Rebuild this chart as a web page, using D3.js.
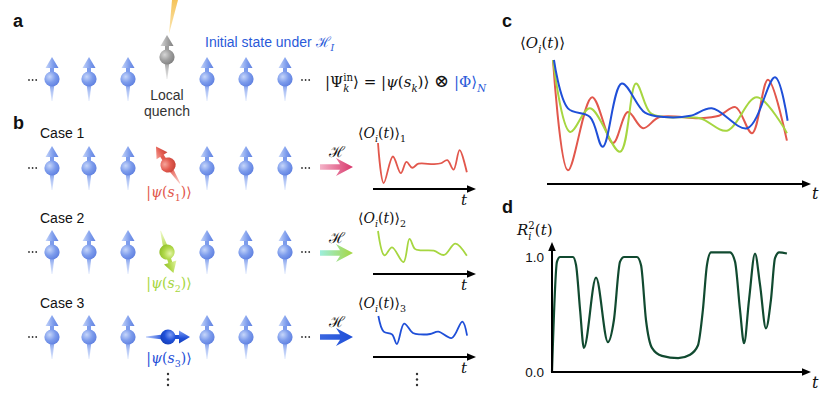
<!DOCTYPE html>
<html>
<head>
<meta charset="utf-8">
<script src="https://d3js.org/d3.v7.min.js"></script>
<style>
  body { margin: 0; background: #fff; }
  text { font-family: "Liberation Sans", Arial, sans-serif; }
</style>
</head>
<body>
<div id="chart"></div>
<script>
// DATA (t in 0..100)

var redSeries = [[0, 1.0], [6.3, 0.11], [16.5, 0.70], [25.3, 0.33], [31.6, 0.58], [38, 0.45],
    [45, 0.54], [62, 0.53], [70, 0.55], [77, 0.62], [84, 0.41], [90.7, 0.84], [98.7, 0.35]]
var greenSeries = [[0, 1.0], [7.2, 0.42], [15.6, 0.61], [28.3, 0.26], [35, 0.81], [41, 0.575],
    [47, 0.54], [62, 0.53], [73.4, 0.43], [86, 0.70], [98.7, 0.41]]
var blueSeries = [[0.4, 1.0], [6.3, 0.61], [15.6, 0.54], [21, 0.30], [29, 0.81], [38.8, 0.575],
    [47, 0.54], [58, 0.55], [67, 0.61], [82, 0.45], [93.7, 0.86], [99, 0.51]]

var fidelitySeries = [[0, 0], [2.1, 0.96], [3.4, 1.0], [8.8, 1.0], [10.1, 0.93], [11.8, 0.54],
    [13.4, 0.21], [18.5, 0.82], [23.5, 0.26], [26, 0.45], [28.6, 0.96], [30.3, 1.0], [35.7, 1.0],
    [37.4, 0.93], [39.5, 0.45], [42, 0.21], [46.2, 0.14], [53, 0.12], [58, 0.15], [61.3, 0.23],
    [63.4, 0.54], [65.1, 0.93], [66.8, 1.04], [74.8, 1.04], [76.9, 0.96], [79, 0.54], [80.7, 0.25],
    [82.8, 0.63], [85.3, 1.03], [87.4, 0.76], [89.9, 0.38], [92, 0.63], [93.7, 0.99], [95.4, 1.04],
    [98.7, 1.03]]

var caseLabels = ['Case 1', 'Case 2', 'Case 3']
var caseIndex = ['1', '2', '3']
var fidelityTicks = [0, 1]
var fidelityTickLabels = ['0.0', '1.0']

// GENERAL SETUP

var width = 830
var height = 407
var svg = d3.select('#chart').append('svg')
    .attr('width', width)
    .attr('height', height)
var defs = svg.append('defs')

var mathFont = '"DejaVu Serif", "Liberation Serif", serif'
var lineColors = { red: '#e2574c', green: '#a6d640', blue: '#1f4fd8' }

// spin colours: [highlight, body, shadow]
var spinColors = {
    blue: ['#c6d6fa', '#7d9cec', '#5f80e0'],
    grey: ['#d6d6d6', '#9e9e9e', '#808080'],
    red: ['#f6a59b', '#e35b50', '#c8443a'],
    green: ['#e4f5a6', '#b0d84a', '#92c02a'],
    deep: ['#7f9ff5', '#1f4fd8', '#163fb8']
}

Object.keys(spinColors).forEach(function (k) {
    var c = spinColors[k]
    var rg = defs.append('radialGradient').attr('id', 'ball-' + k)
        .attr('cx', '35%').attr('cy', '35%').attr('r', '70%')
    rg.append('stop').attr('offset', '0%').attr('stop-color', c[0])
    rg.append('stop').attr('offset', '55%').attr('stop-color', c[1])
    rg.append('stop').attr('offset', '100%').attr('stop-color', c[2])
    var tg = defs.append('linearGradient').attr('id', 'tail-' + k)
        .attr('x1', 0).attr('y1', 0).attr('x2', 0).attr('y2', 1)
    tg.append('stop').attr('offset', '0%').attr('stop-color', c[1])
    tg.append('stop').attr('offset', '100%').attr('stop-color', c[0]).attr('stop-opacity', 0.6)
    var hg = defs.append('linearGradient').attr('id', 'head-' + k)
        .attr('x1', 0).attr('y1', 0).attr('x2', 1).attr('y2', 0)
    hg.append('stop').attr('offset', '0%').attr('stop-color', c[0])
    hg.append('stop').attr('offset', '60%').attr('stop-color', c[1])
    hg.append('stop').attr('offset', '100%').attr('stop-color', c[2])
})

function drawSpin(x, y, angle, key) {
    var g = svg.append('g').attr('transform', 'translate(' + x + ',' + y + ') rotate(' + angle + ')')
    g.append('path').attr('d', 'M-2.4,5 L2.4,5 L0.4,22 L-0.4,22 Z').attr('fill', 'url(#tail-' + key + ')')
    g.append('rect').attr('x', -2).attr('y', -13).attr('width', 4).attr('height', 8)
        .attr('fill', spinColors[key][1])
    g.append('path').attr('d', 'M0,-22 L6.5,-11 L-6.5,-11 Z').attr('fill', 'url(#head-' + key + ')')
    g.append('circle').attr('r', 7.6).attr('fill', 'url(#ball-' + key + ')')
}

function dots(x, y, vertical) {
    for (var i = 0; i < 3; i++) {
        svg.append('circle')
            .attr('cx', vertical ? x : x + i * 3.6)
            .attr('cy', vertical ? y + i * 5.5 : y)
            .attr('r', vertical ? 1.2 : 0.9)
            .attr('fill', '#333')
    }
}

// math text built from parts: s text, it italic, sub/sup, c colour, back (overlap previous)
function mathText(x, y, parts, size, color, anchor) {
    var t = svg.append('text').attr('x', x).attr('y', y)
        .style('font-family', mathFont).attr('font-size', size).attr('fill', color || '#111')
        .attr('text-anchor', anchor || 'start')
    var shift = 0
    var prev = null
    parts.forEach(function (p) {
        var target = p.sub ? size * 0.3 : (p.sup ? -size * 0.42 : 0)
        var ts = t.append('tspan').attr('dy', target - shift).text(p.s)
        shift = target
        if (p.sub || p.sup) ts.attr('font-size', size * 0.68)
        if (p.it) ts.attr('font-style', 'italic')
        if (p.c) ts.attr('fill', p.c)
        if (p.fs) ts.attr('font-size', p.fs)
        if (p.back && prev) ts.attr('dx', -prev.node().getComputedTextLength())
        prev = ts
    })
    return t
}

function label(x, y, s, size, weight, color, anchor) {
    return svg.append('text').attr('x', x).attr('y', y).text(s)
        .attr('font-size', size).attr('font-weight', weight || 'normal')
        .attr('fill', color || '#111').attr('text-anchor', anchor || 'start')
}

function arrowAxis(x1, y1, x2, y2) {
    var dx = x2 - x1, dy = y2 - y1
    var len = Math.sqrt(dx * dx + dy * dy)
    var ux = dx / len, uy = dy / len
    var hl = 9, hw = 3.8
    svg.append('line').attr('x1', x1).attr('y1', y1)
        .attr('x2', x2 - ux * hl * 0.8).attr('y2', y2 - uy * hl * 0.8)
        .attr('stroke', '#000').attr('stroke-width', 2)
    svg.append('path')
        .attr('d', 'M' + x2 + ',' + y2 +
            ' L' + (x2 - ux * hl - uy * hw) + ',' + (y2 - uy * hl + ux * hw) +
            ' L' + (x2 - ux * hl + uy * hw) + ',' + (y2 - uy * hl - ux * hw) + ' Z')
        .attr('fill', '#000')
}

function oLabel(sub) {
    var p = [{ s: '⟨' }, { s: 'O', it: 1 }, { s: 'i', it: 1, sub: 1 }, { s: '(' }, { s: 't', it: 1 }, { s: ')' }, { s: '⟩' }]
    if (sub) p.push({ s: sub, sub: 1 })
    return p
}

// PANEL LABELS
label(13, 27, 'a', 18, 'bold')
label(13, 129, 'b', 18, 'bold')
label(502, 27, 'c', 18, 'bold')
label(502, 213, 'd', 18, 'bold')

// PANEL A

var spinXs = [52, 89, 128, 207, 246, 285]
var beam = defs.append('linearGradient').attr('id', 'beam').attr('x1', 0).attr('y1', 0).attr('x2', 0).attr('y2', 1)
beam.append('stop').attr('offset', '0%').attr('stop-color', '#f5c35a')
beam.append('stop').attr('offset', '100%').attr('stop-color', '#fbe7b4')
svg.append('path').attr('d', 'M172,0 L178,0 L169,34 Z').attr('fill', 'url(#beam)')

spinXs.forEach(function (x) { drawSpin(x, 79, 0, 'blue') })
drawSpin(167, 57, 0, 'grey')
dots(29, 80)
dots(302, 80)
label(167, 100, 'Local', 14, 'normal', '#333', 'middle')
label(167, 116, 'quench', 14, 'normal', '#333', 'middle')

var stateBlue = '#2a5ad9'
var initLabel = label(205, 47, 'Initial state under ', 14, 'normal', stateBlue)
initLabel.append('tspan').text('ℋ').style('font-family', mathFont)
initLabel.append('tspan').text('I').style('font-family', mathFont).attr('font-style', 'italic')
    .attr('font-size', 9.5).attr('dy', 4)

mathText(325, 87, [
    { s: '|Ψ' }, { s: 'k', it: 1, sub: 1 }, { s: 'in', sup: 1, back: 1 }, { s: '⟩ = |' },
    { s: 'ψ', it: 1 }, { s: '(' }, { s: 's', it: 1 }, { s: 'k', it: 1, sub: 1 }, { s: ')⟩ ' },
    { s: '⊗', fs: 18 }, { s: ' ' },
    { s: '|Φ⟩', c: stateBlue }, { s: 'N', it: 1, sub: 1, c: stateBlue }
], 15)

// PANEL B

var caseYs = [168, 252, 337]
var caseSpin = [
    { x: 168, y: 165, a: -33, key: 'red', color: lineColors.red },
    { x: 167, y: 252, a: 163, key: 'green', color: lineColors.green },
    { x: 168, y: 337, a: 90, key: 'deep', color: lineColors.blue }
]
var caseLabelYs = [138, 223, 308]
var stateLabelYs = [197, 288, 363]
var arrowYs = [167, 253, 337]
var axisYs = [189, 274, 357]
var miniHeights = [46, 43, 41]
var caseSeries = [redSeries, greenSeries, blueSeries]
var caseColors = [lineColors.red, lineColors.green, lineColors.blue]
var arrowGrads = [['#f4b3c8', '#d8376b'], ['#9deedd', '#a6d640'], ['#3a66e0', '#1f4fd8']]

var miniX = d3.scaleLinear().domain([0, 100]).range([378, 468])

caseLabels.forEach(function (name, i) {
    var y = caseYs[i]
    label(40, caseLabelYs[i], name, 14, 'normal', '#111')
    spinXs.forEach(function (x) { drawSpin(x, y, 0, 'blue') })
    var s = caseSpin[i]
    drawSpin(s.x, s.y, s.a, s.key)
    dots(29, y)
    dots(302, y)
    mathText(169, stateLabelYs[i], [
        { s: '|' }, { s: 'ψ', it: 1 }, { s: '(' }, { s: 's', it: 1 }, { s: caseIndex[i], sub: 1 }, { s: ')⟩' }
    ], 14, s.color, 'middle')

    // Hamiltonian arrow
    var gid = 'harrow' + i
    var ag = defs.append('linearGradient').attr('id', gid)
    ag.append('stop').attr('offset', '0%').attr('stop-color', arrowGrads[i][0])
    ag.append('stop').attr('offset', '100%').attr('stop-color', arrowGrads[i][1])
    var ay = arrowYs[i]
    svg.append('path')
        .attr('d', 'M320,' + (ay - 2.8) + ' L340,' + (ay - 2.8) + ' L336,' + (ay - 9) + ' L353,' + ay +
            ' L336,' + (ay + 9) + ' L340,' + (ay + 2.8) + ' L320,' + (ay + 2.8) + ' Z')
        .attr('fill', 'url(#' + gid + ')')
    mathText(329, ay - 10, [{ s: 'ℋ' }], 15, '#111')

    // mini dynamics plot
    var miniY = d3.scaleLinear().domain([0, 1]).range([axisYs[i] - 1, axisYs[i] - miniHeights[i]])
    var line = d3.line().x(function (d) { return miniX(d[0]) }).y(function (d) { return miniY(d[1]) })
        .curve(d3.curveCatmullRom.alpha(0.5))
    svg.append('path').datum(caseSeries[i]).attr('d', line)
        .attr('fill', 'none').attr('stroke', caseColors[i]).attr('stroke-width', 1.8)
    arrowAxis(373, axisYs[i], 476, axisYs[i])
    mathText(358, caseLabelYs[i], oLabel(caseIndex[i]), 14)
    mathText(461, axisYs[i] + 16, [{ s: 't', it: 1 }], 15)
})
dots(168, 374, true)
dots(417, 374, true)

// PANEL C

var cx = d3.scaleLinear().domain([0, 100]).range([553, 790])
var cy = d3.scaleLinear().domain([0, 1]).range([184, 60])
var cLine = d3.line().x(function (d) { return cx(d[0]) }).y(function (d) { return cy(d[1]) })
    .curve(d3.curveCatmullRom.alpha(0.5))
;[['red', redSeries], ['green', greenSeries], ['blue', blueSeries]].forEach(function (s) {
    svg.append('path').datum(s[1]).attr('d', cLine)
        .attr('fill', 'none').attr('stroke', lineColors[s[0]]).attr('stroke-width', 2)
})
arrowAxis(547, 184, 811, 184)
mathText(520, 48, oLabel(null), 15)
mathText(812, 199, [{ s: 't', it: 1 }], 16)

// PANEL D

var dx = d3.scaleLinear().domain([0, 100]).range([552, 790])
var dy = d3.scaleLinear().domain([0, 1]).range([372, 257])
var dLine = d3.line().x(function (d) { return dx(d[0]) }).y(function (d) { return dy(d[1]) })
    .curve(d3.curveMonotoneX)
svg.append('path').datum(fidelitySeries).attr('d', dLine)
    .attr('fill', 'none').attr('stroke', '#114a30').attr('stroke-width', 2.2)
arrowAxis(552, 373, 552, 242)
arrowAxis(551, 372, 811, 372)
fidelityTicks.forEach(function (v, i) {
    label(544, dy(v) + 5, fidelityTickLabels[i], 13.5, 'normal', '#111', 'end')
})
mathText(517, 235, [{ s: 'R', it: 1 }, { s: 'i', it: 1, sub: 1 }, { s: '2', sup: 1, back: 1 }, { s: '(' }, { s: 't', it: 1 }, { s: ')' }], 15)
mathText(812, 388, [{ s: 't', it: 1 }], 16)
</script>
</body>
</html>
